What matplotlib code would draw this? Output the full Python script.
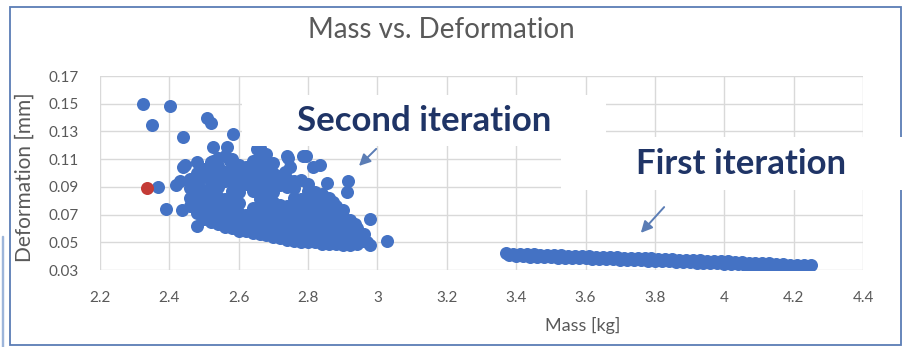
import matplotlib
matplotlib.use("Agg")
import matplotlib.pyplot as plt
from matplotlib.patches import Rectangle

plt.rcParams['font.family'] = ['Lato', 'DejaVu Sans']

# tick positions / labels
x_ticks = [2.2, 2.4, 2.6, 2.8, 3.0, 3.2, 3.4, 3.6, 3.8, 4.0, 4.2, 4.4]
x_labels = ['2.2', '2.4', '2.6', '2.8', '3', '3.2', '3.4', '3.6', '3.8', '4', '4.2', '4.4']
y_ticks = [0.03, 0.05, 0.07, 0.09, 0.11, 0.13, 0.15, 0.17]
y_labels = ['0.03', '0.05', '0.07', '0.09', '0.11', '0.13', '0.15', '0.17']

# second iteration - sparse points around the cloud
second_sparse_mass = [2.324, 2.402, 2.350, 2.439, 2.509, 2.520, 2.584, 2.526, 2.566, 2.526,
                      2.575, 2.653, 2.739, 2.794, 2.834, 2.814, 2.748, 2.733, 2.915, 2.912,
                      2.855, 2.872, 2.979, 3.028, 2.979, 2.970, 2.366, 2.420, 2.391, 2.436,
                      2.479, 2.431, 2.445, 2.480, 2.440, 2.470, 2.742, 2.785, 2.935]
second_sparse_def = [0.150, 0.148, 0.135, 0.126, 0.140, 0.136, 0.128, 0.119, 0.119, 0.109,
                     0.109, 0.117, 0.112, 0.112, 0.106, 0.104, 0.104, 0.101, 0.094, 0.086,
                     0.093, 0.079, 0.067, 0.051, 0.048, 0.050, 0.090, 0.091, 0.074, 0.073,
                     0.062, 0.094, 0.106, 0.108, 0.104, 0.088, 0.111, 0.112, 0.063]

# second iteration - dense cloud
second_mass = [
    2.46, 2.46, 2.46, 2.46,
    2.48, 2.48, 2.48, 2.48, 2.48,
    2.50, 2.50, 2.50, 2.50, 2.50, 2.50,
    2.52, 2.52, 2.52, 2.52, 2.52, 2.52, 2.52,
    2.54, 2.54, 2.54, 2.54, 2.54, 2.54, 2.54, 2.54,
    2.56, 2.56, 2.56, 2.56, 2.56, 2.56, 2.56,
    2.58, 2.58, 2.58, 2.58, 2.58, 2.58, 2.58, 2.58,
    2.60, 2.60, 2.60, 2.60, 2.60, 2.60, 2.60, 2.60,
    2.62, 2.62, 2.62, 2.62, 2.62, 2.62,
    2.64, 2.64, 2.64, 2.64, 2.64, 2.64, 2.64, 2.64,
    2.66, 2.66, 2.66, 2.66, 2.66, 2.66, 2.66, 2.66, 2.66, 2.66,
    2.68, 2.68, 2.68, 2.68, 2.68, 2.68, 2.68, 2.68, 2.68, 2.68,
    2.70, 2.70, 2.70, 2.70, 2.70, 2.70, 2.70, 2.70, 2.70,
    2.72, 2.72, 2.72, 2.72, 2.72, 2.72, 2.72,
    2.74, 2.74, 2.74, 2.74, 2.74, 2.74, 2.74,
    2.76, 2.76, 2.76, 2.76, 2.76, 2.76, 2.76, 2.76,
    2.78, 2.78, 2.78, 2.78, 2.78, 2.78, 2.78,
    2.80, 2.80, 2.80, 2.80, 2.80, 2.80, 2.80, 2.80,
    2.82, 2.82, 2.82, 2.82, 2.82, 2.82, 2.82,
    2.84, 2.84, 2.84, 2.84, 2.84, 2.84, 2.84,
    2.86, 2.86, 2.86, 2.86, 2.86, 2.86, 2.86,
    2.88, 2.88, 2.88, 2.88, 2.88, 2.88,
    2.90, 2.90, 2.90, 2.90, 2.90, 2.90,
    2.92, 2.92, 2.92, 2.92, 2.92,
    2.94, 2.94, 2.94,
    2.96, 2.96,
]
second_def = [
    0.076, 0.082, 0.089, 0.096,
    0.071, 0.078, 0.085, 0.093, 0.100,
    0.067, 0.074, 0.081, 0.088, 0.097, 0.103,
    0.065, 0.071, 0.078, 0.086, 0.094, 0.101, 0.108,
    0.063, 0.069, 0.076, 0.083, 0.090, 0.098, 0.105, 0.111,
    0.061, 0.067, 0.074, 0.081, 0.094, 0.101, 0.112,
    0.060, 0.066, 0.073, 0.080, 0.087, 0.095, 0.103, 0.110,
    0.058, 0.064, 0.071, 0.078, 0.086, 0.093, 0.100, 0.106,
    0.058, 0.063, 0.070, 0.092, 0.099, 0.104,
    0.057, 0.062, 0.068, 0.075, 0.087, 0.095, 0.102, 0.109,
    0.056, 0.061, 0.067, 0.074, 0.081, 0.088, 0.096, 0.104, 0.112, 0.118,
    0.055, 0.060, 0.066, 0.073, 0.080, 0.087, 0.094, 0.101, 0.108, 0.114,
    0.054, 0.059, 0.065, 0.072, 0.079, 0.086, 0.093, 0.100, 0.107,
    0.053, 0.058, 0.064, 0.070, 0.077, 0.091, 0.098,
    0.052, 0.057, 0.063, 0.069, 0.076, 0.090, 0.096,
    0.051, 0.056, 0.062, 0.068, 0.075, 0.082, 0.089, 0.094,
    0.050, 0.055, 0.061, 0.067, 0.074, 0.081, 0.095,
    0.050, 0.054, 0.060, 0.066, 0.073, 0.080, 0.087, 0.092,
    0.050, 0.054, 0.059, 0.065, 0.072, 0.079, 0.086,
    0.049, 0.053, 0.058, 0.064, 0.071, 0.078, 0.085,
    0.049, 0.053, 0.058, 0.063, 0.070, 0.077, 0.082,
    0.049, 0.053, 0.057, 0.063, 0.069, 0.076,
    0.048, 0.052, 0.057, 0.062, 0.068, 0.073,
    0.048, 0.052, 0.057, 0.062, 0.066,
    0.049, 0.054, 0.060,
    0.051, 0.056,
]

# first iteration band
first_mass_a = [3.37, 3.39, 3.41, 3.43, 3.45, 3.47, 3.49, 3.51, 3.53, 3.55, 3.57, 3.59,
                3.61, 3.63, 3.65, 3.67, 3.69, 3.71, 3.73, 3.75, 3.77, 3.79, 3.81, 3.83,
                3.85, 3.87, 3.89, 3.91, 3.93, 3.95, 3.97, 3.99, 4.01, 4.03, 4.05, 4.07,
                4.09, 4.11, 4.13, 4.15, 4.17, 4.19, 4.21, 4.23, 4.25]
first_def_a = [0.0424, 0.0416, 0.0415, 0.0413, 0.0412, 0.0410, 0.0408, 0.0407, 0.0405,
               0.0403, 0.0402, 0.0400, 0.0398, 0.0397, 0.0395, 0.0394, 0.0392, 0.0390,
               0.0389, 0.0387, 0.0385, 0.0383, 0.0381, 0.0379, 0.0377, 0.0375, 0.0373,
               0.0371, 0.0369, 0.0367, 0.0365, 0.0365, 0.0366, 0.0359, 0.0356, 0.0354,
               0.0351, 0.0349, 0.0347, 0.0344, 0.0342, 0.0339, 0.0337, 0.0335, 0.0336]
first_mass_b = [3.38, 3.40, 3.42, 3.44, 3.46, 3.48, 3.50, 3.52, 3.54, 3.56, 3.58, 3.60,
                3.62, 3.64, 3.66, 3.68, 3.70, 3.72, 3.74, 3.76, 3.78, 3.80, 3.82, 3.84,
                3.86, 3.88, 3.90, 3.92, 3.94, 3.96, 3.98, 4.00, 4.02, 4.04, 4.06, 4.08,
                4.10, 4.12, 4.14, 4.16, 4.18, 4.20, 4.22, 4.24]
first_def_b = [0.0405, 0.0400, 0.0398, 0.0397, 0.0395, 0.0393, 0.0392, 0.0390, 0.0389,
               0.0387, 0.0385, 0.0384, 0.0382, 0.0380, 0.0379, 0.0377, 0.0375, 0.0374,
               0.0372, 0.0370, 0.0368, 0.0366, 0.0364, 0.0362, 0.0360, 0.0358, 0.0356,
               0.0354, 0.0352, 0.0350, 0.0348, 0.0346, 0.0344, 0.0341, 0.0339, 0.0336,
               0.0334, 0.0332, 0.0329, 0.0327, 0.0325, 0.0323, 0.0322, 0.0324]

# selected design (red)
best_mass = [2.335]
best_def = [0.089]

blue = '#4472C4'
red = '#C43B36'
gray = '#595959'
navy = '#1F3466'
arrow_c = '#5B7DB5'

fig = plt.figure(figsize=(9.12, 3.47), dpi=100)
ax = fig.add_axes([100 / 912, 1 - 270 / 347, 763 / 912, 194 / 347])

ms = 88
ax.scatter(first_mass_a, first_def_a, s=ms, color=blue, linewidths=0, zorder=3)
ax.scatter(first_mass_b, first_def_b, s=ms, color=blue, linewidths=0, zorder=3)
ax.scatter(second_mass, second_def, s=ms, color=blue, linewidths=0, zorder=3)
ax.scatter(second_sparse_mass, second_sparse_def, s=ms, color=blue, linewidths=0, zorder=3)
ax.scatter(best_mass, best_def, s=ms, color=red, linewidths=0, zorder=4)

ax.set_xlim(2.2, 4.4)
ax.set_ylim(0.03, 0.17)
ax.set_xticks(x_ticks, x_labels)
ax.set_yticks(y_ticks, y_labels)
ax.grid(True, color='#D9D9D9', linewidth=1.0, zorder=0)
ax.set_axisbelow(True)
for s in ax.spines.values():
    s.set_visible(False)
ax.tick_params(length=0, labelsize=11, labelcolor=gray)
ax.tick_params(axis='x', pad=15)
ax.tick_params(axis='y', pad=15)
ax.set_xlabel('Mass [kg]', fontsize=13, color=gray)
ax.xaxis.set_label_coords(483 / 763, -(317 - 270) / 194)
ax.set_ylabel('Deformation [mm]', fontsize=15, color=gray)
ax.yaxis.set_label_coords(-(100 - 35) / 763, 0.48)

fig.text(441 / 912, 1 - 30 / 347, 'Mass vs. Deformation', fontsize=20, color=gray,
         ha='center', va='center')

# outer chart border
fig.patches.append(Rectangle((10 / 912, 2 / 347), 891 / 912, 338 / 347, transform=fig.transFigure,
                             fill=False, edgecolor='#5B7DB5', linewidth=1.3, zorder=1))
fig.patches.append(Rectangle((2 / 912, -0.01), 1 / 912, 114 / 347, transform=fig.transFigure,
                             fill=False, edgecolor='#9DB5DA', linewidth=1.0, zorder=1))

# white label boxes
fig.patches.append(Rectangle((242 / 912, 1 - 146 / 347), 364 / 912, 51 / 347,
                             transform=fig.transFigure, facecolor='white',
                             edgecolor='none', zorder=5))
fig.patches.append(Rectangle((561 / 912, 1 - 190 / 347), 351 / 912, 53 / 347,
                             transform=fig.transFigure, facecolor='white',
                             edgecolor='none', zorder=5))

fig.text(424 / 912, 1 - 121 / 347, 'Second iteration', fontsize=25, fontweight='bold',
         color=navy, ha='center', va='center', zorder=6)
fig.text(741 / 912, 1 - 164 / 347, 'First iteration', fontsize=25, fontweight='bold',
         color=navy, ha='center', va='center', zorder=6)

ax.annotate('', xy=(2.941, 0.1037), xytext=(3.002, 0.1188),
            arrowprops=dict(arrowstyle='-|>', color=arrow_c, lw=1.4, mutation_scale=17),
            zorder=6, annotation_clip=False)
ax.annotate('', xy=(3.754, 0.0553), xytext=(3.832, 0.0769),
            arrowprops=dict(arrowstyle='-|>', color=arrow_c, lw=1.4, mutation_scale=17),
            zorder=6)

fig.savefig('out.png', dpi=100)
